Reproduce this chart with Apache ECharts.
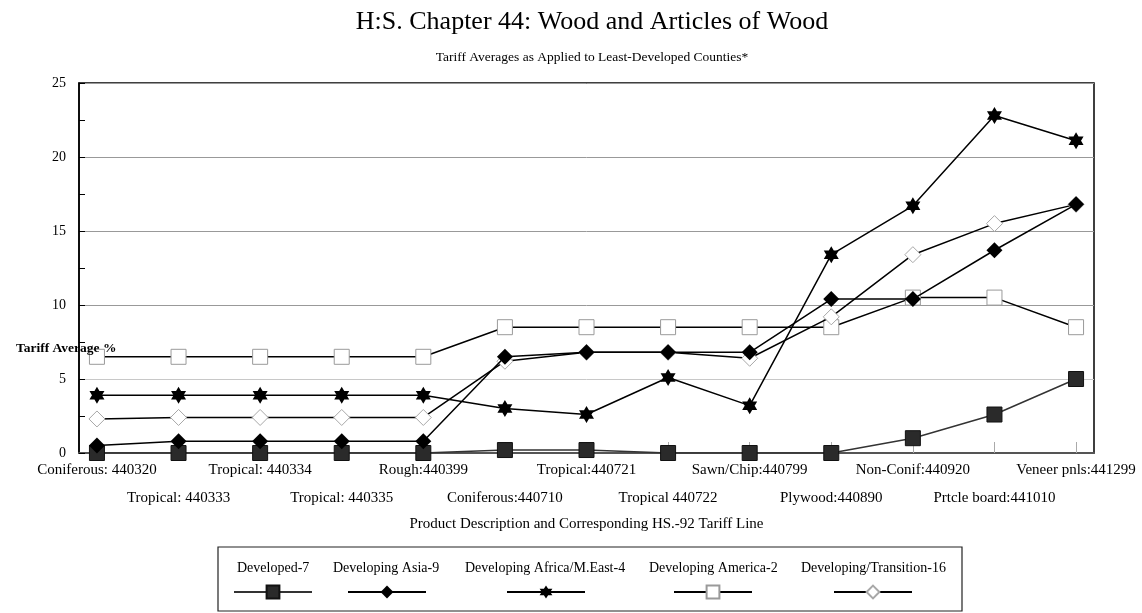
<!DOCTYPE html>
<html>
<head>
<meta charset="utf-8">
<script src="https://cdn.jsdelivr.net/npm/echarts@6/dist/echarts.min.js"></script>
<style>
  html, body { margin: 0; padding: 0; background: #fff; }
  #chart { width: 1142px; height: 613px; }
</style>
</head>
<body>
<div id="chart"></div>
<script>
// Product lines (HS-92 tariff lines) along the horizontal axis
const categories = [
  'Coniferous: 440320', 'Tropical: 440333', 'Tropical: 440334', 'Tropical: 440335',
  'Rough:440399', 'Coniferous:440710', 'Tropical:440721', 'Tropical 440722',
  'Sawn/Chip:440799', 'Plywood:440890', 'Non-Conif:440920', 'Prtcle board:441010',
  'Veneer pnls:441299'
];

// Tariff averages (%) per country group
const developed7   = [0, 0, 0, 0, 0, 0.2, 0.2, 0, 0, 0, 1.0, 2.6, 5.0];
const asia9        = [0.5, 0.8, 0.8, 0.8, 0.8, 6.5, 6.8, 6.8, 6.8, 10.4, 10.4, 13.7, 16.8];
const africaME4    = [3.9, 3.9, 3.9, 3.9, 3.9, 3.0, 2.6, 5.1, 3.2, 13.4, 16.7, 22.8, 21.1];
const america2     = [6.5, 6.5, 6.5, 6.5, 6.5, 8.5, 8.5, 8.5, 8.5, 8.5, 10.5, 10.5, 8.5];
const transition16 = [2.3, 2.4, 2.4, 2.4, 2.4, 6.2, 6.8, 6.8, 6.4, 9.2, 13.4, 15.5, 16.8];

const yTicks = [0, 5, 10, 15, 20, 25];

const SERIF = '"Liberation Serif", "DejaVu Serif", serif';
const LEGEND_FONT = 14;

// category positions on the x scale; labels alternate between two rows
const positions = categories.map((c, i) => i);
const upperRow = positions.filter(i => i % 2 === 0);
const lowerRow = positions.filter(i => i % 2 === 1);
const X_MIN = -0.22, X_MAX = 12.22;

// six-pointed star marker
const STAR = 'path://M0,-10L8.66,5L-8.66,5Z M0,10L-8.66,-5L8.66,-5Z';

const seriesDefs = [
  { name: 'Developed-7', values: developed7, symbol: 'rect', size: 15,
    item: { color: '#2a2a2a', borderColor: '#111', borderWidth: 1 }, line: '#333', z: 2 },
  { name: 'Developing America-2', values: america2, symbol: 'rect', size: 15,
    item: { color: '#fff', borderColor: '#9a9a9a', borderWidth: 1 }, line: '#000', z: 3 },
  { name: 'Developing/Transition-16', values: transition16, symbol: 'diamond', size: 16,
    item: { color: '#fff', borderColor: '#a8a8a8', borderWidth: 1 }, line: '#000', z: 4 },
  { name: 'Developing Asia-9', values: asia9, symbol: 'diamond', size: 16,
    item: { color: '#000', borderColor: '#000', borderWidth: 0 }, line: '#000', z: 5 },
  { name: 'Developing Africa/M.East-4', values: africaME4, symbol: STAR, size: [15, 17],
    item: { color: '#000', borderColor: '#000', borderWidth: 0 }, line: '#000', z: 6 }
];

const series = seriesDefs.map(d => ({
  name: d.name,
  type: 'line',
  xAxisIndex: 0,
  z: d.z,
  data: d.values.map((v, i) => [positions[i], v]),
  symbol: d.symbol,
  symbolSize: d.size,
  showAllSymbol: true,
  itemStyle: d.item,
  lineStyle: { color: d.line, width: 1.5 },
  emphasis: { disabled: true }
}));

// legend: each entry is a label centred over its line+marker sample
const legendOrder = [
  { name: 'Developed-7', center: 272 },
  { name: 'Developing Asia-9', center: 386 },
  { name: 'Developing Africa/M.East-4', center: 545 },
  { name: 'Developing America-2', center: 712 },
  { name: 'Developing/Transition-16', center: 872 }
];
const ICON_W = 78;

const measureCtx = document.createElement('canvas').getContext('2d');
measureCtx.font = LEGEND_FONT + 'px ' + SERIF;

const legends = [];
legendOrder.forEach(l => {
  const w = measureCtx.measureText(l.name).width;
  legends.push({
    data: [l.name], left: Math.round(l.center - w / 2 - 5), top: 561, padding: 0,
    icon: 'rect', itemWidth: 0, itemHeight: 0, selectedMode: false,
    textStyle: { fontFamily: SERIF, fontSize: LEGEND_FONT, color: '#000' }
  });
  legends.push({
    data: [l.name], left: l.center - ICON_W / 2, top: 584, padding: 0,
    itemWidth: ICON_W, itemHeight: 16, selectedMode: false,
    formatter: () => ''
  });
});

const labelStyle = { fontFamily: SERIF, fontSize: 15, color: '#000' };

const chart = echarts.init(document.getElementById('chart'), null, { renderer: 'canvas' });

chart.setOption({
  animation: false,
  backgroundColor: '#fff',
  title: [
    { text: 'H:S. Chapter 44: Wood and Articles of Wood', left: 587, textAlign: 'center', top: 4,
      textStyle: { fontFamily: SERIF, fontSize: 26, fontWeight: 'normal', color: '#000' } },
    { text: 'Tariff Averages as Applied to Least-Developed Counties*', left: 587, textAlign: 'center', top: 45,
      textStyle: { fontFamily: SERIF, fontSize: 13.5, fontWeight: 'normal', color: '#000' } },
    { text: 'Tariff Average %', left: 11, top: 337,
      textStyle: { fontFamily: SERIF, fontSize: 13.5, fontWeight: 'bold', color: '#000' } }
  ],
  legend: legends,
  graphic: [
    { type: 'rect', shape: { x: 218, y: 547, width: 744, height: 64 },
      style: { fill: 'none', stroke: '#222', lineWidth: 1.2 }, z: -1 }
  ],
  grid: {
    left: 79, right: 48, top: 83, bottom: 160,
    show: true, borderColor: '#000', borderWidth: 1.5, backgroundColor: '#fff'
  },
  xAxis: [
    {
      type: 'value',
      position: 'bottom',
      min: X_MIN,
      max: X_MAX,
      name: 'Product Description and Corresponding HS.-92 Tariff Line',
      nameLocation: 'middle',
      nameGap: 64,
      nameTextStyle: { fontFamily: SERIF, fontSize: 15, color: '#000' },
      axisLine: { show: true, onZero: false, lineStyle: { color: '#555', width: 2 } },
      axisTick: {
        show: true, inside: true, length: 11,
        customValues: positions,
        lineStyle: { color: '#aaa', width: 1 }
      },
      axisLabel: Object.assign({
        customValues: upperRow,
        showMinLabel: true, showMaxLabel: true, hideOverlap: false,
        margin: 10,
        formatter: v => categories[Math.round(v)]
      }, labelStyle),
      splitLine: { show: false }
    },
    {
      type: 'value',
      position: 'bottom',
      min: X_MIN,
      max: X_MAX,
      axisLine: { show: false, onZero: false },
      axisTick: { show: false },
      axisLabel: Object.assign({
        customValues: lowerRow,
        showMinLabel: true, showMaxLabel: true, hideOverlap: false,
        margin: 38,
        formatter: v => categories[Math.round(v)]
      }, labelStyle),
      splitLine: { show: false }
    }
  ],
  yAxis: {
    type: 'value',
    min: yTicks[0],
    max: yTicks[yTicks.length - 1],
    interval: 5,
    axisLine: { show: true, onZero: false, lineStyle: { color: '#000', width: 1.5 } },
    axisTick: { show: true, inside: true, length: 6, lineStyle: { color: '#000' } },
    minorTick: { show: true, splitNumber: 2, length: 6, lineStyle: { color: '#000' } },
    axisLabel: { fontFamily: SERIF, fontSize: 14, color: '#000', margin: 13 },
    splitLine: { show: true, lineStyle: { color: ['#999', '#c8c8c8', '#999', '#999', '#999', '#999'], width: 1 } }
  },
  series: series
});
</script>
</body>
</html>
